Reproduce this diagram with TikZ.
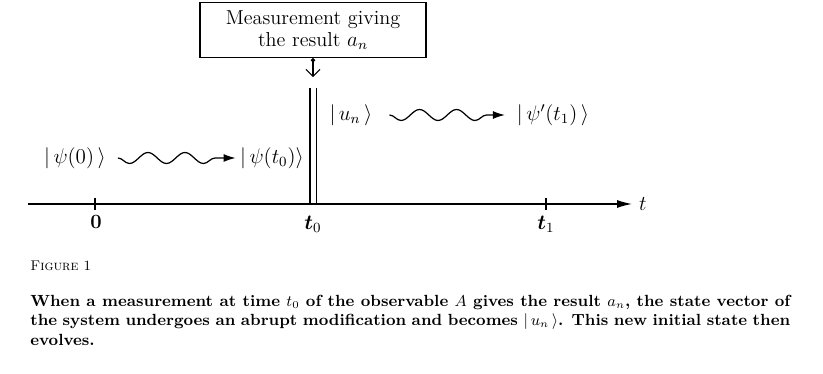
\documentclass[tikz,border=0pt]{standalone}
\usepackage{amsmath}
\usetikzlibrary{positioning, arrows.meta, decorations.pathmorphing}

\begin{document}
\begin{tikzpicture}[x=0.02cm, y=-0.02cm,
  every node/.style={font=\fontsize{11.5}{13.5}\selectfont},
  measbox/.style={
    draw, line width=0.6pt, align=center,
    minimum width=4.52cm, minimum height=1.1cm, inner sep=2pt,
  },
  ket/.style={inner sep=1pt},
  ticklab/.style={inner sep=1pt},
  evolve/.style={
    decorate, line width=0.7pt,
    decoration={snake, mirror, amplitude=1.1mm, segment length=7.4mm, post length=2.5mm},
    -{Latex[length=2.4mm,width=1.6mm]},
  },
  jump/.style={line width=1pt, double distance=1mm},
  axis/.style={line width=0.7pt, -{Latex[length=3mm,width=1.6mm]}},
]
\useasboundingbox (0,0) rectangle (823,374);

% ---- Measurement box and the jump at t0 ----
\node[measbox] (meas) at (313,30) {Measurement giving\\[-1pt] the result $a_n$};
\coordinate (jtop) at (313,88);
\coordinate (jbot) at (313,204);
\draw[line width=0.6pt, {Circle[length=2.5pt]}-{Straight Barb[length=1.4mm]}]
  (meas.south) -- ++(0,19) coordinate (mtip);
\draw[jump] (jtop) -- (jbot);

% ---- Time axis ----
\coordinate (axstart) at (28,204);
\coordinate (axend) at (632,204);
\draw[axis] (axstart) -- (axend);
\node[right=1mm of axend, ticklab] (tlab) {$t$};

\coordinate (tick0) at (95,204);
\coordinate (tick1) at (546,204);
\draw[line width=0.6pt] (tick0) ++(0,-6) -- ++(0,12);
\draw[line width=0.6pt] (tick1) ++(0,-6) -- ++(0,12);
\node[ticklab] (lab0) at (96,222) {\bfseries 0};
\node[ticklab] (labt0) at (313,224) {$\boldsymbol{t}_0$};
\node[ticklab] (labt1) at (546,224) {$\boldsymbol{t}_1$};

% ---- States ----
\node[ket] (psi0) at (75,158) {$|\,\psi(0)\,\rangle$};
\node[ket] (psit0) at (272,158) {$|\,\psi(t_0)\rangle$};
\node[ket] (un) at (351,115) {$|\,u_n\,\rangle$};
\node[ket] (psit1) at (553,115) {$|\,\psi'(t_1)\,\rangle$};

% ---- Evolution (wavy) ----
\draw[evolve] ([xshift=2mm]psi0.east) -- ([xshift=-0.5mm]psit0.west);
\draw[evolve] ([xshift=3mm]un.east) -- ([xshift=-2mm]psit1.west);

% ---- Caption ----
\node[anchor=west, inner sep=0pt, font=\fontsize{8}{9}\selectfont] (fig) at (30,266) {\textsc{Figure} 1};
\node[anchor=north west, inner sep=0pt, text width=15.2cm, align=justify,
      font=\bfseries\fontsize{9.2}{11}\selectfont] (cap) at (30,295)
  {When a measurement at time $t_0$ of the observable $A$ gives the result $a_n$,
   the state vector of the system undergoes an abrupt modification and becomes
   $|\,u_n\,\rangle$. This new initial state then evolves.};
\end{tikzpicture}
\end{document}
